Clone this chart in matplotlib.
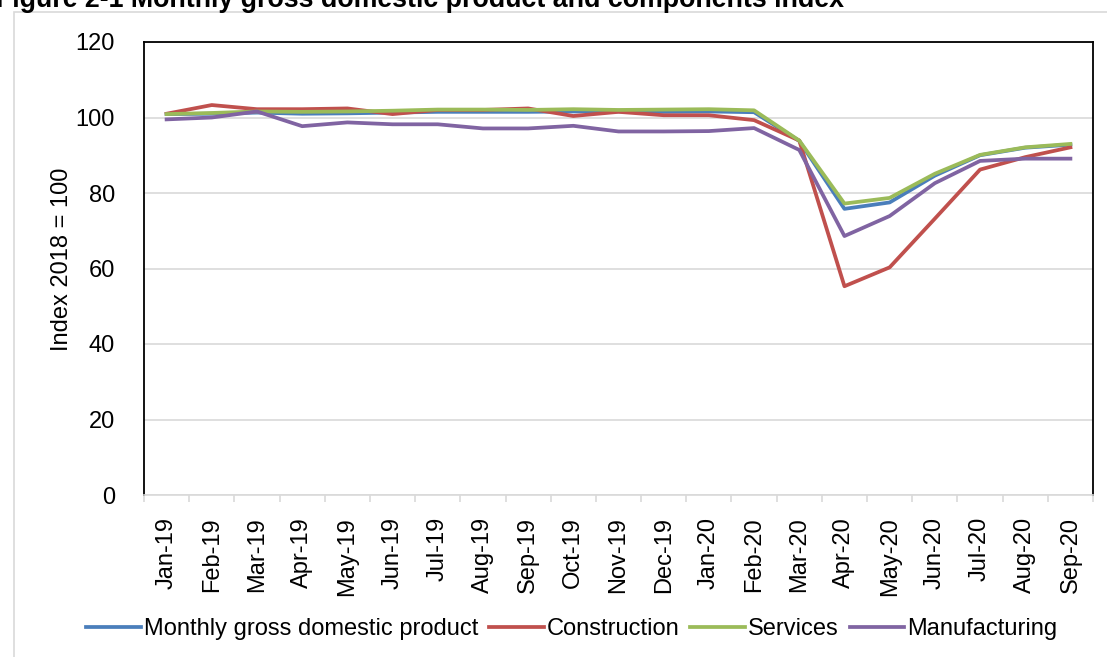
import matplotlib
matplotlib.use('Agg')
import matplotlib.pyplot as plt
from matplotlib.patches import Rectangle

plt.rcParams['font.family'] = ['Liberation Sans', 'DejaVu Sans']

months = ['Jan-19', 'Feb-19', 'Mar-19', 'Apr-19', 'May-19', 'Jun-19', 'Jul-19',
          'Aug-19', 'Sep-19', 'Oct-19', 'Nov-19', 'Dec-19', 'Jan-20', 'Feb-20',
          'Mar-20', 'Apr-20', 'May-20', 'Jun-20', 'Jul-20', 'Aug-20', 'Sep-20']

gdp = [100.9, 101.0, 101.3, 101.0, 101.1, 101.3, 101.5, 101.5, 101.5, 101.6, 101.6,
       101.5, 101.6, 101.4, 93.8, 75.8, 77.5, 84.6, 90.0, 92.0, 92.8]
construction = [101.0, 103.3, 102.2, 102.2, 102.4, 100.9, 102.0, 102.0, 102.4, 100.4, 101.5,
                100.6, 100.6, 99.3, 93.9, 55.3, 60.3, 73.2, 86.2, 89.5, 92.1]
services = [100.9, 101.2, 101.6, 101.5, 101.6, 101.8, 102.1, 102.1, 102.0, 102.2, 102.0,
            102.1, 102.2, 101.9, 93.9, 77.2, 78.7, 85.1, 90.1, 92.1, 93.0]
manufacturing = [99.5, 100.0, 101.6, 97.7, 98.7, 98.2, 98.2, 97.1, 97.1, 97.8, 96.3,
                 96.3, 96.4, 97.2, 91.4, 68.6, 73.9, 82.6, 88.5, 89.1, 89.1]

series = [
    ('Monthly gross domestic product', gdp, '#4A7EBB'),
    ('Construction', construction, '#C0504D'),
    ('Services', services, '#9BBB59'),
    ('Manufacturing', manufacturing, '#8064A2'),
]

fs = 17

fig = plt.figure(figsize=(11.07, 6.57), dpi=100)
ax = fig.add_axes([144 / 1107, 1 - 495 / 657, (1093 - 144) / 1107, (495 - 42) / 657])

# light outer frame of the chart object
fig.patches.append(Rectangle((14 / 1107, -0.1), 1.2, 1 - 12 / 657 + 0.1,
                             transform=fig.transFigure, fill=False,
                             edgecolor='#d9d9d9', linewidth=1.2))

x = list(range(len(months)))
for name, vals, col in series:
    ax.plot(x, vals, color=col, linewidth=2.7, label=name)

ax.set_xlim(-0.5, len(months) - 0.5)
ax.set_ylim(0, 120)
ax.set_yticks(range(0, 121, 20))
ax.yaxis.grid(True, color='#d9d9d9', linewidth=1.2)
ax.set_axisbelow(True)

ax.set_xticks(x)
ax.set_xticklabels(months, rotation=90, fontsize=fs)
ax.set_xticks([i - 0.5 for i in range(len(months) + 1)], minor=True)
ax.tick_params(axis='x', which='major', length=0, pad=16)
ax.tick_params(axis='x', which='minor', length=5, color='#d9d9d9', width=1.2)
ax.tick_params(axis='y', length=0, pad=21, labelsize=fs)

for s in ['left', 'top', 'right']:
    ax.spines[s].set_color('black')
    ax.spines[s].set_linewidth(1.3)
ax.spines['bottom'].set_color('#d9d9d9')
ax.spines['bottom'].set_linewidth(1.2)

fig.text(62 / 1107, 1 - 259 / 657, 'Index 2018 = 100', rotation=90,
         fontsize=fs, ha='center', va='center')

fig.text(-4 / 1107, 1 - 7 / 657, 'Figure 2-1 Monthly gross domestic product and components index',
         fontsize=19.3, fontweight='bold', ha='left', va='baseline')

fig.legend(loc='center', bbox_to_anchor=(572 / 1107, 1 - 629 / 657), ncol=4,
           frameon=False, fontsize=fs, handlelength=2.3, handletextpad=0.15,
           columnspacing=0.45, borderaxespad=0)

fig.savefig('out.png', dpi=100)
